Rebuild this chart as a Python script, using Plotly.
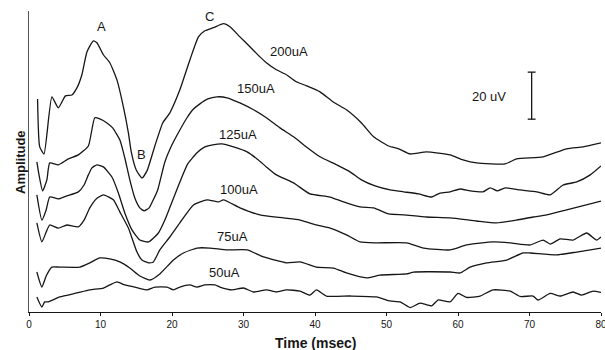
import plotly.graph_objects as go

# Time (ms) and displayed amplitude (uV, traces stacked)
t_200 = [1.2, 1.5, 2.1, 3.2, 4.1, 5.1, 6.0, 6.7, 7.4, 8.1, 9.0, 9.5, 10.4, 11.3, 12.3, 13.2, 13.9, 14.3,
         15.0, 15.8, 16.5, 17.6, 18.7, 19.7, 21.1, 22.5, 23.7, 24.6, 25.8, 27.2, 28.1, 29.5, 30.9, 32.3,
         33.2, 34.6, 36.0, 37.4, 38.8, 40.7, 42.5, 44.4, 46.5, 48.2, 50.3, 51.7, 53.3, 55.6, 58.9, 60.7,
         62.6, 66.6, 68.2, 71.9, 75.2, 77.5, 80.0]
a_200 = [90.6, 70.2, 67.2, 91.5, 86.8, 91.9, 92.3, 95.3, 100.9, 110.6, 115.3, 114.5, 109.4, 106.0, 98.7,
         87.2, 76.2, 68.1, 60.4, 57.0, 60.0, 70.6, 80.4, 84.7, 94.5, 107.2, 117.0, 119.6, 120.9, 122.6,
         121.3, 117.0, 112.8, 108.5, 106.0, 103.0, 100.9, 97.9, 96.2, 93.6, 89.4, 86.0, 80.4, 74.5, 70.6,
         69.4, 67.2, 68.1, 66.8, 64.7, 63.4, 63.0, 65.1, 66.0, 69.4, 70.2, 71.9]

t_150 = [1.1, 1.4, 1.9, 2.5, 2.9, 4.1, 5.5, 6.9, 8.3, 9.2, 9.9, 10.9, 11.7, 12.7, 13.4, 14.1, 14.8, 15.5,
         16.1, 16.8, 17.3, 18.0, 19.0, 20.0, 21.1, 22.1, 22.9, 23.9, 25.0, 26.3, 27.7, 29.5, 31.4, 33.2,
         35.1, 37.0, 38.8, 40.7, 43.0, 44.9, 46.5, 48.4, 50.5, 52.4, 54.5, 56.3, 57.5, 58.9, 60.3, 61.7,
         63.5, 64.5, 65.5, 66.6, 68.7, 71.0, 72.9, 74.7, 76.6, 78.5, 80.0]
a_150 = [63.8, 58.3, 51.5, 56.2, 63.4, 62.6, 65.1, 66.8, 70.6, 82.6, 82.1, 80.4, 78.3, 73.2, 65.5, 56.2,
         48.5, 44.3, 43.0, 44.3, 47.2, 51.9, 63.8, 71.1, 77.4, 82.6, 86.0, 88.5, 90.6, 91.5, 91.1, 88.9,
         86.0, 82.6, 78.3, 74.5, 70.2, 66.0, 62.6, 59.6, 56.2, 53.6, 51.9, 51.1, 50.2, 48.9, 50.6, 51.1,
         52.3, 51.5, 51.1, 52.8, 51.5, 52.8, 51.9, 51.1, 49.8, 54.0, 55.3, 58.3, 62.1]

t_125 = [1.1, 1.8, 2.4, 2.9, 4.1, 5.3, 6.9, 7.7, 8.3, 8.8, 9.5, 10.4, 11.6, 12.5, 13.4, 14.4, 15.5, 16.7,
         18.1, 19.0, 20.0, 21.1, 22.2, 23.5, 24.6, 25.7, 27.0, 28.6, 30.5, 31.9, 33.2, 34.6, 37.0, 39.3,
         42.1, 44.0, 46.3, 48.2, 50.3, 52.4, 55.6, 58.9, 62.6, 65.4, 68.2, 70.5, 72.4, 75.2, 80.0]
a_125 = [49.8, 39.1, 43.4, 48.9, 48.1, 49.4, 51.1, 54.0, 58.3, 61.3, 62.6, 61.7, 57.4, 50.6, 42.1, 34.9,
         30.6, 29.8, 33.6, 39.1, 46.8, 55.3, 63.0, 67.7, 70.2, 71.1, 71.5, 70.2, 68.1, 65.1, 61.7, 58.3,
         54.9, 50.2, 48.9, 46.8, 44.7, 44.3, 41.7, 41.3, 40.4, 40.0, 38.7, 37.9, 39.1, 40.4, 41.3, 43.4,
         47.2]

t_100 = [1.1, 1.8, 2.4, 2.9, 4.1, 5.3, 6.9, 7.7, 8.5, 9.4, 10.4, 11.8, 12.7, 13.9, 15.1, 15.8, 16.7, 17.4,
         18.3, 19.7, 21.1, 23.0, 24.9, 26.5, 27.2, 29.5, 32.3, 35.6, 37.9, 40.2, 42.1, 44.4, 46.3, 48.6,
         52.8, 55.2, 58.9, 61.2, 64.9, 67.3, 70.1, 71.9, 72.9, 74.3, 76.1, 78.0, 79.4, 80.0]
a_100 = [37.9, 29.8, 34.0, 37.0, 35.7, 37.0, 36.2, 39.1, 44.3, 48.1, 49.8, 47.7, 42.6, 35.7, 25.5, 22.1,
         20.9, 21.3, 26.4, 31.9, 37.9, 45.5, 47.7, 46.8, 47.7, 44.3, 41.3, 40.0, 39.1, 37.0, 35.7, 32.8,
         29.8, 29.4, 29.4, 27.2, 26.4, 28.5, 29.8, 29.4, 28.5, 30.6, 28.9, 31.1, 30.6, 33.6, 30.6, 31.9]

t_75 = [1.1, 1.8, 2.4, 3.2, 4.3, 7.1, 8.5, 9.9, 11.3, 12.7, 14.1, 15.5, 16.9, 18.3, 20.2, 21.6, 23.5,
        25.3, 27.7, 30.5, 32.8, 36.0, 37.9, 40.2, 42.6, 44.4, 47.2, 49.1, 52.8, 53.8, 58.9, 60.3, 61.7,
        64.0, 66.8, 69.1, 70.1, 73.8, 76.6, 80.0]
a_75 = [17.0, 10.6, 15.3, 19.1, 19.1, 19.1, 20.9, 23.0, 22.6, 21.3, 18.7, 15.3, 13.6, 16.2, 22.1, 25.1,
        27.2, 27.2, 26.4, 26.4, 23.4, 20.9, 21.3, 19.1, 18.7, 16.6, 14.5, 15.7, 16.2, 17.0, 17.0, 16.6,
        19.1, 20.9, 22.1, 25.1, 25.1, 24.3, 25.5, 27.2]

t_50 = [1.1, 1.8, 2.2, 2.7, 4.3, 6.7, 8.5, 10.4, 11.3, 12.3, 13.4, 14.8, 16.5, 17.6, 19.3, 20.2, 21.1,
        22.5, 23.5, 24.6, 26.0, 26.7, 28.4, 30.0, 31.4, 33.2, 34.6, 36.0, 37.9, 39.3, 40.2, 41.6, 44.9,
        48.6, 50.5, 51.9, 53.3, 54.7, 56.3, 57.2, 58.9, 60.0, 61.2, 63.1, 64.9, 67.3, 68.7, 70.5, 71.2,
        72.9, 74.3, 76.1, 77.3, 78.9, 80.0]
a_50 = [6.4, 2.1, 4.3, 4.3, 6.4, 8.1, 9.4, 10.2, 11.5, 12.8, 11.5, 10.6, 9.4, 10.6, 10.6, 9.4, 10.6,
        11.5, 10.6, 11.5, 11.5, 10.6, 9.4, 10.2, 8.5, 9.4, 8.5, 9.4, 8.9, 7.2, 9.4, 6.8, 6.8, 6.4, 4.7,
        4.3, 1.9, 3.8, 2.6, 5.1, 4.3, 7.9, 6.2, 6.8, 9.4, 8.9, 6.6, 6.8, 5.1, 7.9, 6.8, 8.5, 7.2, 8.9, 8.3]

series_names = ["200uA", "150uA", "125uA", "100uA", "75uA", "50uA"]
series_t = [t_200, t_150, t_125, t_100, t_75, t_50]
series_a = [a_200, a_150, a_125, a_100, a_75, a_50]
x_ticks = [0, 10, 20, 30, 40, 50, 60, 70, 80]
scale_uv = 20

FONT = "Liberation Sans, Arial, Helvetica, sans-serif"
INK = "#161616"

fig = go.Figure()
for name, tt, aa in zip(series_names, series_t, series_a):
    fig.add_trace(go.Scatter(x=tt, y=aa, mode="lines", name=name,
                             line=dict(color=INK, width=1.3, shape="spline", smoothing=0.5),
                             showlegend=False, hoverinfo="skip", cliponaxis=False))

# scale bar (20 uV)
bar_t, bar_lo = 70.3, 82.0
fig.add_trace(go.Scatter(x=[bar_t, bar_t], y=[bar_lo, bar_lo + scale_uv], mode="lines",
                         line=dict(color=INK, width=1.3), showlegend=False, hoverinfo="skip"))
for yy in (bar_lo, bar_lo + scale_uv):
    fig.add_shape(type="line", x0=bar_t - 0.55, x1=bar_t + 0.55, y0=yy, y1=yy,
                  line=dict(color=INK, width=1.3))

labels = [("200uA", 36.3, 110.6), ("150uA", 31.8, 94.9), ("125uA", 29.2, 75.3),
          ("100uA", 29.4, 52.3), ("75uA", 28.5, 31.9), ("50uA", 27.4, 16.6),
          ("A", 10.1, 121.3), ("B", 15.8, 66.8), ("C", 25.2, 125.7), ("20 uV", 64.3, 91.5)]
for txt, xx, yy in labels:
    fig.add_annotation(x=xx, y=yy, text=txt, showarrow=False,
                       font=dict(family=FONT, size=13, color=INK))

fig.add_annotation(x=0.5, y=-0.103, xref="paper", yref="paper", text="<b>Time (msec)</b>",
                   showarrow=False, yanchor="middle", font=dict(family=FONT, size=14, color=INK))
fig.add_annotation(x=-0.0315, y=0.5, xref="paper", yref="paper", text="<b>Amplitude</b>",
                   showarrow=False, textangle=-90, font=dict(family=FONT, size=13, color=INK))

fig.update_layout(
    width=605, height=350,
    margin=dict(l=29, r=4, t=11, b=38, autoexpand=False),
    paper_bgcolor="white", plot_bgcolor="white",
    font=dict(family=FONT, color=INK),
)
fig.update_xaxes(range=[0, 80], tickvals=x_ticks, ticktext=[str(v) for v in x_ticks],
                 showgrid=False, zeroline=False, showline=True, linecolor=INK, linewidth=1.2,
                 ticks="outside", ticklen=3, tickcolor=INK, tickfont=dict(size=10, family=FONT),
                 ticklabeloverflow="allow", automargin=False, fixedrange=True)
fig.update_yaxes(range=[0, 128], showgrid=False, zeroline=False, showline=True,
                 linecolor="#555555", linewidth=1, showticklabels=False, ticks="",
                 automargin=False, fixedrange=True)

fig.write_html("out.html", config={"displayModeBar": False},
               post_script="document.body.style.margin='0';document.body.style.overflow='hidden';")
